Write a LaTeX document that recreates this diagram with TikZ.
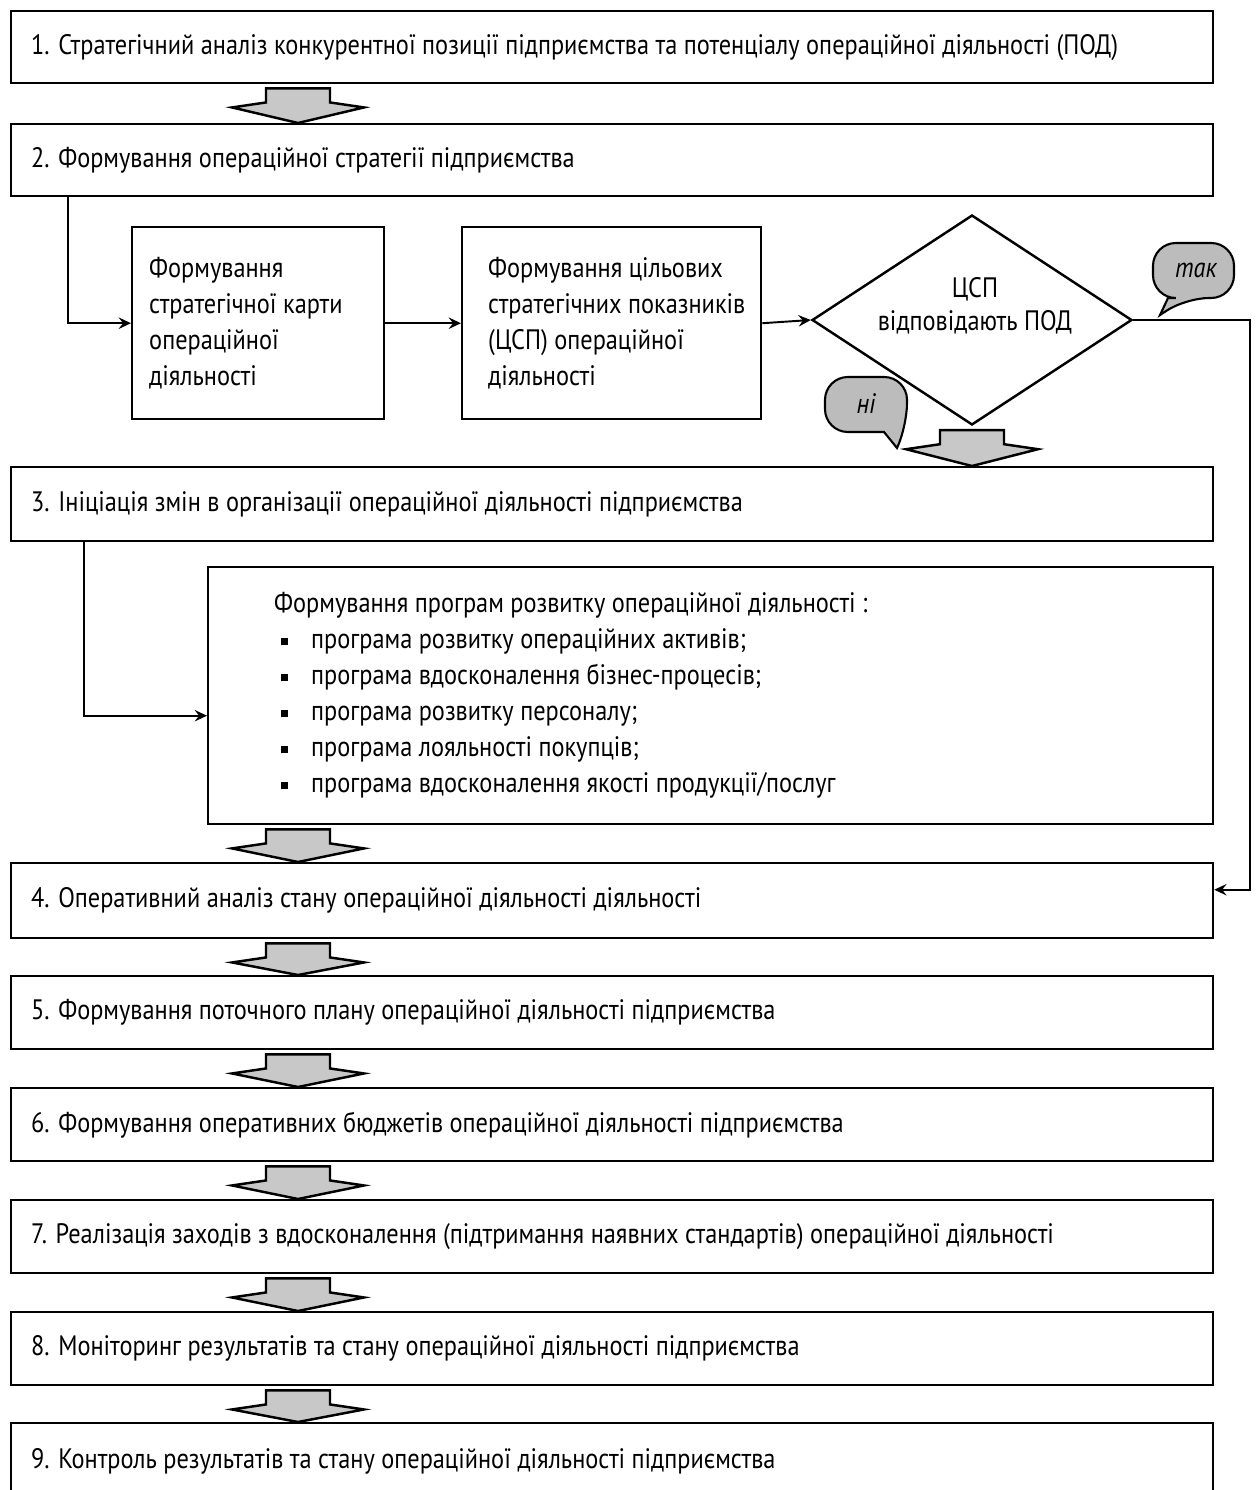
\documentclass[tikz,border=0pt]{standalone}
\usepackage{fontspec}
\setmainfont{PT Sans}[FakeStretch=0.865]
\usepackage{tikz}
\usetikzlibrary{arrows.meta}
\usetikzlibrary{calc}
\usetikzlibrary{shapes.geometric}
\definecolor{ArrowGray}{RGB}{200,200,200}
\definecolor{BubbleGray}{RGB}{188,188,188}
\newcommand{\progitem}{\hspace*{0.14cm}\rule[0.07cm]{0.14cm}{0.14cm}\hspace*{0.46cm}}

\begin{document}
\begin{tikzpicture}[x=0.02cm,y=-0.02cm,>={Stealth[length=7pt,width=6.5pt,inset=2.5pt]},
    txt/.style={font=\fontsize{16}{20.5}\selectfont},
    stage/.style={txt,draw,line width=1.4pt,anchor=north west,inner sep=0pt,inner xsep=0.4cm,text width=23.24cm,minimum height=1.46cm,align=flush left},
    block/.style={txt,draw,line width=1.4pt,anchor=north west,inner sep=0pt,align=flush left},
    link/.style={line width=1.1pt},
    bigarrow/.style={draw,fill=ArrowGray,line width=1.4pt,line join=miter},
    bubble/.style={draw,fill=BubbleGray,line width=1.2pt},
    answer/.style={font=\fontsize{16}{18}\selectfont\itshape}]
      \clip (0,0) rectangle (1255,1490);
      \node[stage,minimum height=1.44cm] (b1) at (10,10) {1. Стратегічний аналіз конкурентної позиції підприємства та потенціалу операційної діяльності (ПОД)};
      \node[stage,minimum height=1.44cm] (b2) at (10,123) {2. Формування операційної стратегії підприємства};
      \node[block,minimum width=5.04cm,minimum height=3.84cm,text width=4.36cm,inner xsep=0.34cm] (fa) at (131,226) {Формування\\стратегічної карти\\операційної\\діяльності};
      \node[block,minimum width=5.98cm,minimum height=3.84cm,text width=4.94cm,inner xsep=0.52cm] (fb) at (461,226) {\mbox{Формування цільових}\\\mbox{стратегічних показників}\\\mbox{(ЦСП) операційної}\\діяльності};
      \node[draw,line width=1.4pt,diamond,aspect=1.52,minimum width=6.4cm,minimum height=4.2cm,inner sep=0pt] (dec) at (972,320) {};
      \node[txt,align=center,font=\fontsize{16}{19}\selectfont] (dectxt) at (975,306) {ЦСП\\відповідають ПОД};
      \node[stage,minimum height=1.48cm] (b3) at (10,466) {3. Ініціація змін в організації операційної діяльності підприємства};
      \node[block,minimum width=20.1cm,minimum height=5.14cm,text width=17.46cm,inner xsep=1.32cm] (fc) at (207,566) {Формування програм розвитку операційної діяльності :\\
        \progitem програма розвитку операційних активів;\\
        \progitem програма вдосконалення бізнес-процесів;\\
        \progitem програма розвитку персоналу;\\
        \progitem програма лояльності покупців;\\
        \progitem програма вдосконалення якості продукції/послуг};
      \node[stage,minimum height=1.5cm] (b4) at (10,862) {4. Оперативний аналіз стану операційної діяльності діяльності};
      \node[stage] (b5) at (10,975) {5. Формування поточного плану операційної діяльності підприємства};
      \node[stage] (b6) at (10,1087) {6. Формування оперативних бюджетів операційної діяльності підприємства};
      \node[stage] (b7) at (10,1199) {7. Реалізація заходів з вдосконалення (підтримання наявних стандартів) операційної діяльності};
      \node[stage] (b8) at (10,1311) {8. Моніторинг результатів та стану операційної діяльності підприємства};
      \node[stage,minimum height=1.52cm] (b9) at (10,1422) {9. Контроль результатів та стану операційної діяльності підприємства};

      \draw[link,->] ($(b2.south west)+(58,0)$) |- (fa.west);
      \draw[link,->] (fa.east) -- (fb.west);
      \draw[link,->] (fb.east) -- (dec.west);
      \draw[link,->] ($(b3.south west)+(74,0)$) |- ($(fc.west)+(0,20)$);
      \coordinate (rt) at (1250,0);
      \draw[link,->] (dec.east) -- (dec.east -| rt) -- ($(b4.east -| rt)+(0,-11)$) -- ($(b4.east)+(0,-11)$);

      \coordinate (ax) at (298,0);
      \coordinate (dx) at (972,0);
      \foreach \a/\b/\c in {b1/b2/ax,dec/b3/dx,fc/b4/ax,b4/b5/ax,b5/b6/ax,b6/b7/ax,b7/b8/ax,b8/b9/ax}
        \draw[bigarrow] ($(\a.south -| \c)+(-32,4)$) -- ++(0,14) -- ++(-34,5) -- (\b.north -| \c) -- ($(\a.south -| \c)+(66,23)$) -- ++(-34,-5) -- ++(0,-14) -- cycle;

      \draw[bubble,rounded corners=13] (1153,243) -- (1234,243) -- (1234,298) -- (1186,298) [sharp corners] -- (1160,315) -- (1168,298) [rounded corners=13] -- (1153,298) -- cycle;
      \node[answer] (tak) at (1196,270) {так};
      \draw[bubble,rounded corners=13] (825,377) -- (907,377) -- (907,426) [sharp corners] -- (897,448) -- (884,432) [rounded corners=13] -- (825,432) -- cycle;
      \node[answer] (ni) at (866,404) {ні};
    \end{tikzpicture}
\end{document}
